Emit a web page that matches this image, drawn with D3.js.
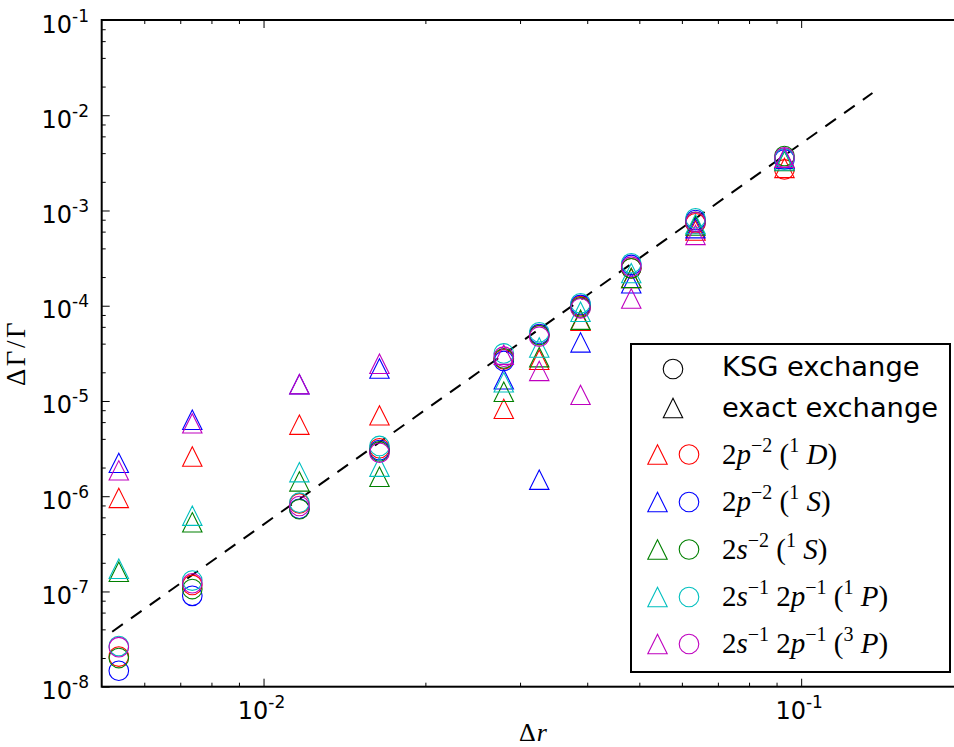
<!DOCTYPE html>
<html><head><meta charset="utf-8">
<script src="https://cdn.jsdelivr.net/npm/d3@7"></script>
<style>body{margin:0;background:#fff;overflow:hidden}</style>
</head><body>
<svg id="c" width="954" height="747"></svg>
<script>
// ---- data ----
const xValues = [0.00538, 0.00737, 0.01166, 0.01643, 0.02798, 0.03257, 0.03887, 0.0483, 0.0636, 0.0931];

const exact1D  = [9.6e-7, 2.61e-6, 5.64e-6, 7.06e-6, 8.27e-6, 2.71e-5, 6.97e-5, 1.95e-4, 6.16e-4, 2.8e-3];
const exact1Sp = [2.24e-6, 6.35e-6, 1.5e-5, 2.19e-5, 1.69e-5, 1.49e-6, 4.12e-5, 1.72e-4, 6.52e-4, 3.49e-3];
const exact1Ss = [1.61e-7, 5.32e-7, 1.43e-6, 1.60e-6, 1.25e-5, 2.88e-5, 7.13e-5, 1.96e-4, 6.95e-4, 3.3e-3];
const exact1P  = [1.73e-7, 6.24e-7, 1.79e-6, 2.04e-6, 1.57e-5, 3.64e-5, 8.65e-5, 2.2e-4, 7.2e-4, 3.36e-3];
const exact3P  = [1.87e-6, 5.82e-6, 1.5e-5, 2.46e-5, 3.06e-5, 2.07e-5, 1.16e-5, 1.19e-4, 5.54e-4, 3.57e-3];

const ksg1D  = [2.07e-8, 1.17e-7, 8.4e-7, 3.19e-6, 2.74e-5, 4.93e-5, 9.9e-5, 2.47e-4, 7.33e-4, 2.70e-3];
const ksg1Sp = [1.47e-8, 9.0e-8, 7.39e-7, 3.05e-6, 2.63e-5, 5.05e-5, 1.02e-4, 2.68e-4, 7.94e-4, 3.44e-3];
const ksg1Ss = [2.0e-8, 1.06e-7, 7.3e-7, 2.95e-6, 2.8e-5, 4.9e-5, 9.6e-5, 2.47e-4, 7.6e-4, 3.73e-3];
const ksg1P  = [2.67e-8, 1.30e-7, 8.55e-7, 3.37e-6, 3.16e-5, 5.26e-5, 1.06e-4, 2.79e-4, 8.28e-4, 3.52e-3];
const ksg3P  = [2.6e-8, 1.22e-7, 7.89e-7, 2.86e-6, 2.92e-5, 4.73e-5, 9.4e-5, 2.57e-4, 7.57e-4, 3.61e-3];

const fitLineX = [0.00523, 0.1357];
const fitLineY = [3.78e-8, 1.71e-2];

const xMajorTicks = [0.01, 0.1];
const xMinorTicks = [0.006, 0.007, 0.008, 0.009, 0.02, 0.03, 0.04, 0.05, 0.06, 0.07, 0.08, 0.09, 0.2];
const yMajorTicks = [1e-8, 1e-7, 1e-6, 1e-5, 1e-4, 1e-3, 1e-2, 1e-1];
const yMinorTicks = [];
for (let e = -8; e <= -2; e++) [2, 4, 6, 8].forEach(m => yMinorTicks.push(+(m + "e" + e)));

const seriesColors = ["#ff0000", "#0000ff", "#008000", "#00bfbf", "#bf00bf"];
const seriesExact = [exact1D, exact1Sp, exact1Ss, exact1P, exact3P];
const seriesKsg = [ksg1D, ksg1Sp, ksg1Ss, ksg1P, ksg3P];
// legend label pieces: [text, style] style: n normal, i italic, s superscript
const seriesLabels = [
  [["2","n"],["p","i"],["\u22122","s"],[" (","n"],["1","s"],[" ","n"],["D","i"],[")","n"]],
  [["2","n"],["p","i"],["\u22122","s"],[" (","n"],["1","s"],[" ","n"],["S","i"],[")","n"]],
  [["2","n"],["s","i"],["\u22122","s"],[" (","n"],["1","s"],[" ","n"],["S","i"],[")","n"]],
  [["2","n"],["s","i"],["\u22121","s"],[" 2","n"],["p","i"],["\u22121","s"],[" (","n"],["1","s"],[" ","n"],["P","i"],[")","n"]],
  [["2","n"],["s","i"],["\u22121","s"],[" 2","n"],["p","i"],["\u22121","s"],[" (","n"],["3","s"],[" ","n"],["P","i"],[")","n"]]
];

// ---- layout ----
const L = 101.7, T = 20, B = 686.7, R = 963;
const svg = d3.select("#c");
const x = d3.scaleLog().domain([0.005, 0.2]).range([L, R]);
const y = d3.scaleLog().domain([1e-8, 1e-1]).range([B, T]);

const sans = "'DejaVu Sans', sans-serif";
const serif = "'Liberation Serif', 'DejaVu Serif', serif";

function drawAxis(axisGen, tx, ty, vals, size) {
  const g = svg.append("g").attr("transform", `translate(${tx},${ty})`)
    .call(axisGen.tickValues(vals).tickSizeInner(size).tickSizeOuter(0).tickFormat(() => ""));
  g.select(".domain").remove();
  g.selectAll(".tick line").attr("stroke", "#000").attr("stroke-width", 1);
  return g;
}
drawAxis(d3.axisBottom(x), 0, B, xMajorTicks, -8);
drawAxis(d3.axisBottom(x), 0, B, xMinorTicks, -4);
drawAxis(d3.axisTop(x), 0, T, xMajorTicks, -8);
drawAxis(d3.axisTop(x), 0, T, xMinorTicks, -4);
drawAxis(d3.axisLeft(y), L, 0, yMajorTicks, -8);
drawAxis(d3.axisLeft(y), L, 0, yMinorTicks, -4);
drawAxis(d3.axisRight(y), R, 0, yMajorTicks, -8);
drawAxis(d3.axisRight(y), R, 0, yMinorTicks, -4);

// spines
svg.append("rect").attr("x", L).attr("y", T).attr("width", R - L).attr("height", B - T)
  .attr("fill", "none").attr("stroke", "#000").attr("stroke-width", 2);

// tick labels
function powLabel(sel, exp) {
  sel.append("tspan").text("10");
  sel.append("tspan").attr("dy", -11).attr("font-size", 17).text("-" + exp);
}
yMajorTicks.forEach(v => {
  const t = svg.append("text").attr("x", 89).attr("y", y(v) + 12.5)
    .attr("text-anchor", "end").attr("font-family", sans).attr("font-size", 24).attr("fill", "#000");
  powLabel(t, Math.round(-Math.log10(v)));
});
xMajorTicks.forEach(v => {
  const t = svg.append("text").attr("x", x(v) - 2).attr("y", B + 32.3)
    .attr("text-anchor", "middle").attr("font-family", sans).attr("font-size", 24).attr("fill", "#000");
  powLabel(t, Math.round(-Math.log10(v)));
});

// axis labels
const yl = svg.append("text").attr("transform", "translate(25,353) rotate(-90)")
  .attr("text-anchor", "middle").attr("font-family", serif).attr("font-size", 27)
  .attr("letter-spacing", 2.5).attr("fill", "#000");
yl.append("tspan").text("\u0394\u0393/\u0393");
const xl = svg.append("text").attr("x", 533).attr("y", 741)
  .attr("text-anchor", "middle").attr("font-family", serif).attr("font-size", 26).attr("fill", "#000");
xl.append("tspan").text("\u0394");
xl.append("tspan").attr("font-style", "italic").attr("dx", 1).text("r");

// fit line
const fit = fitLineX.map((v, i) => [v, fitLineY[i]]);
svg.append("path").datum(fit)
  .attr("d", d3.line().x(d => x(d[0])).y(d => y(d[1])))
  .attr("fill", "none").attr("stroke", "#000").attr("stroke-width", 2).attr("stroke-dasharray", "13,10");

// markers
const triPath = "M0,-9.7L9.7,9.7L-9.7,9.7Z";
seriesColors.forEach((c, si) => {
  const g = svg.append("g");
  g.selectAll("path.tri").data(xValues.map((xv, i) => [xv, seriesExact[si][i]])).join("path")
    .attr("class", "tri")
    .attr("transform", d => `translate(${x(d[0])},${y(d[1])})`)
    .attr("d", triPath).attr("fill", "none").attr("stroke", c).attr("stroke-width", 1.1);
  g.selectAll("circle").data(xValues.map((xv, i) => [xv, seriesKsg[si][i]])).join("circle")
    .attr("cx", d => x(d[0])).attr("cy", d => y(d[1])).attr("r", 9.8)
    .attr("fill", "none").attr("stroke", c).attr("stroke-width", 1.1);
});

// legend
const lg = svg.append("g");
lg.append("rect").attr("x", 631).attr("y", 344).attr("width", 319).attr("height", 328)
  .attr("fill", "#fff").attr("stroke", "#000").attr("stroke-width", 2);
const rowY = [369, 408, 454.5, 502, 549.5, 597, 644];
lg.append("circle").attr("cx", 673).attr("cy", rowY[0]).attr("r", 9.8).attr("fill", "none").attr("stroke", "#000").attr("stroke-width", 1.1);
lg.append("path").attr("transform", `translate(673,${rowY[1]})`).attr("d", triPath).attr("fill", "none").attr("stroke", "#000").attr("stroke-width", 1.1);
lg.append("text").attr("x", 722).attr("y", rowY[0] + 7).attr("font-family", sans).attr("font-size", 27.3).text("KSG exchange");
lg.append("text").attr("x", 722).attr("y", rowY[1] + 9).attr("font-family", sans).attr("font-size", 27.3).text("exact exchange");
seriesColors.forEach((c, si) => {
  const cy = rowY[si + 2];
  lg.append("path").attr("transform", `translate(657.5,${cy})`).attr("d", triPath).attr("fill", "none").attr("stroke", c).attr("stroke-width", 1.1);
  lg.append("circle").attr("cx", 689).attr("cy", cy).attr("r", 9.8).attr("fill", "none").attr("stroke", c).attr("stroke-width", 1.1);
  const t = lg.append("text").attr("x", 722).attr("y", cy + 9).attr("font-family", serif).attr("font-size", 29).attr("fill", "#000");
  let raised = false;
  seriesLabels[si].forEach(([s, st]) => {
    const sp = t.append("tspan").text(s);
    if (st === "i") sp.attr("font-style", "italic");
    if (st === "s") { sp.attr("font-size", 20); if (!raised) { sp.attr("dy", -12); raised = true; } }
    else if (raised) { sp.attr("dy", 12); raised = false; }
  });
});
</script>
</body></html>
